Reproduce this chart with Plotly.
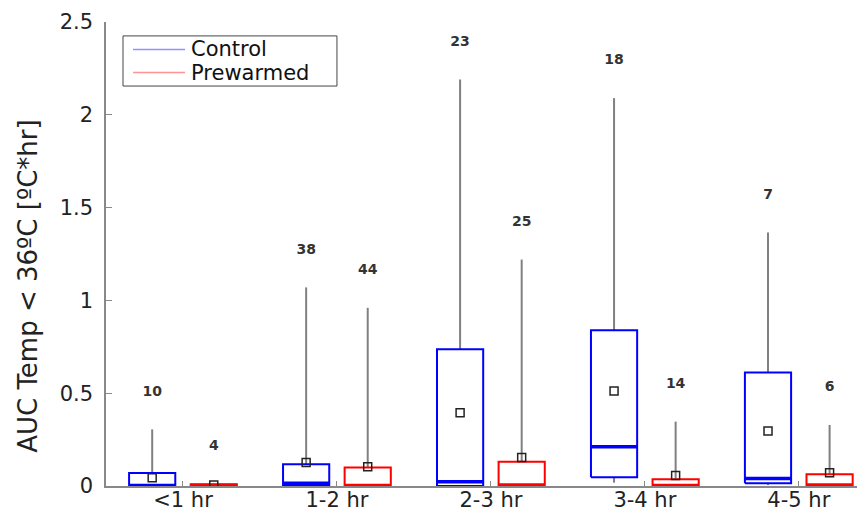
import plotly.graph_objects as go

categories = ["<1 hr", "1-2 hr", "2-3 hr", "3-4 hr", "4-5 hr"]

control_lower = [0.0, 0.0, 0.0, 0.018, 0.005]
control_q1 = [0.0, 0.0, 0.0, 0.047, 0.015]
control_median = [0.003, 0.015, 0.023, 0.212, 0.041]
control_q3 = [0.07, 0.117, 0.737, 0.839, 0.611]
control_upper = [0.305, 1.07, 2.19, 2.09, 1.366]
control_mean = [0.045, 0.126, 0.395, 0.512, 0.296]
control_n = [10, 38, 23, 18, 7]

prewarmed_lower = [0.0, 0.0, 0.0, 0.0, 0.0]
prewarmed_q1 = [0.0, 0.0, 0.0, 0.0, 0.0]
prewarmed_median = [0.003, 0.003, 0.005, 0.003, 0.005]
prewarmed_q3 = [0.01, 0.10, 0.131, 0.036, 0.063]
prewarmed_upper = [0.012, 0.96, 1.22, 0.347, 0.329]
prewarmed_mean = [0.005, 0.104, 0.153, 0.056, 0.072]
prewarmed_n = [4, 44, 25, 14, 6]

series_names = ["Control", "Prewarmed"]

OFFSET = 0.2
HALF = 0.15
LABEL_GAP = 0.2
FONT = "DejaVu Sans, Verdana, sans-serif"

fig = go.Figure()

groups = [
    ("#0000ff", "rgba(90,90,255,0.65)", -OFFSET, control_lower, control_q1,
     control_median, control_q3, control_upper, control_mean, control_n),
    ("#ff0000", "rgba(255,90,90,0.65)", OFFSET, prewarmed_lower, prewarmed_q1,
     prewarmed_median, prewarmed_q3, prewarmed_upper, prewarmed_mean, prewarmed_n),
]

for name, (col, lcol, off, lo, q1, med, q3, up, mean, n) in zip(series_names, groups):
    wx, wy, bx, by, mx, my = [], [], [], [], [], []
    cx = []
    for i in range(len(categories)):
        c = i + 1 + off
        cx.append(c)
        wx += [c, c, None, c, c, None]
        wy += [q3[i], up[i], None, lo[i], q1[i], None]
        bx += [c - HALF, c + HALF, c + HALF, c - HALF, c - HALF, None]
        by += [q1[i], q1[i], q3[i], q3[i], q1[i], None]
        mx += [c - HALF, c + HALF, None]
        my += [med[i], med[i], None]
    fig.add_trace(go.Scatter(x=wx, y=wy, mode="lines", line=dict(color="#808080", width=2),
                             showlegend=False, hoverinfo="skip"))
    fig.add_trace(go.Scatter(x=bx, y=by, mode="lines", line=dict(color=col, width=2),
                             showlegend=False, hoverinfo="skip", name=name))
    fig.add_trace(go.Scatter(x=mx, y=my, mode="lines", line=dict(color=col, width=3.5),
                             showlegend=False, hoverinfo="skip"))
    fig.add_trace(go.Scatter(x=cx, y=mean, mode="markers",
                             marker=dict(symbol="square-open", size=8, color="#222222",
                                         line=dict(width=1.5, color="#222222")),
                             showlegend=False, hoverinfo="skip"))
    fig.add_trace(go.Scatter(x=cx, y=[u + LABEL_GAP for u in up], mode="text",
                             text=[str(v) for v in n],
                             textfont=dict(family=FONT, size=14, color="#333333", weight="bold"),
                             showlegend=False, hoverinfo="skip"))

# hand-built legend (box, line samples, labels) in paper coordinates
L_X0, L_X1, L_Y0, L_Y1 = 0.0224, 0.3043, 0.862, 0.970
row_y = [0.941, 0.891]
fig.add_shape(type="rect", xref="paper", yref="paper", x0=L_X0, x1=L_X1, y0=L_Y0, y1=L_Y1,
              line=dict(color="#444444", width=1), fillcolor="white", layer="above")
for name, (col, lcol, *_), ry in zip(series_names, groups, row_y):
    fig.add_shape(type="line", xref="paper", yref="paper", x0=0.0356, x1=0.1041, y0=ry, y1=ry,
                  line=dict(color=lcol, width=1.5), layer="above")
    fig.add_annotation(xref="paper", yref="paper", x=0.1100, y=ry, xanchor="left",
                       yanchor="middle", text=name, showarrow=False,
                       font=dict(family=FONT, size=21, color="#111111"))

# y-axis title placed as rotated annotation (sits below the axis centre in the reference)
fig.add_annotation(xref="paper", yref="paper", x=-0.103, y=0.431, xanchor="center",
                   yanchor="middle", textangle=-90, showarrow=False,
                   text="AUC Temp < 36ºC [ºC*hr]",
                   font=dict(family=FONT, size=26, color="#222222"))

fig.update_layout(
    width=857, height=501,
    margin=dict(l=98, r=0, t=14, b=23),
    paper_bgcolor="white", plot_bgcolor="white",
    font=dict(family=FONT, size=21, color="#222222"),
    showlegend=False,
    xaxis=dict(range=[0.5, 5.43], tickmode="array", tickvals=[1, 2, 3, 4, 5],
               ticktext=categories, ticks="inside", ticklen=5, tickcolor="#888888",
               showline=True, linecolor="#888888", linewidth=1.5, showgrid=False,
               zeroline=False, tickfont=dict(size=21), automargin=False,
               ticklabelstandoff=-6),
    yaxis=dict(range=[0, 2.5], tickvals=[0, 0.5, 1, 1.5, 2, 2.5],
               ticktext=["0", "0.5", "1", "1.5", "2", "2.5"],
               ticks="inside", ticklen=6, tickcolor="#888888",
               showline=True, linecolor="#888888", linewidth=1.5, showgrid=False,
               zeroline=False, tickfont=dict(size=21), automargin=False,
               ticklabelstandoff=7),
)

fig.write_html("out.html")
